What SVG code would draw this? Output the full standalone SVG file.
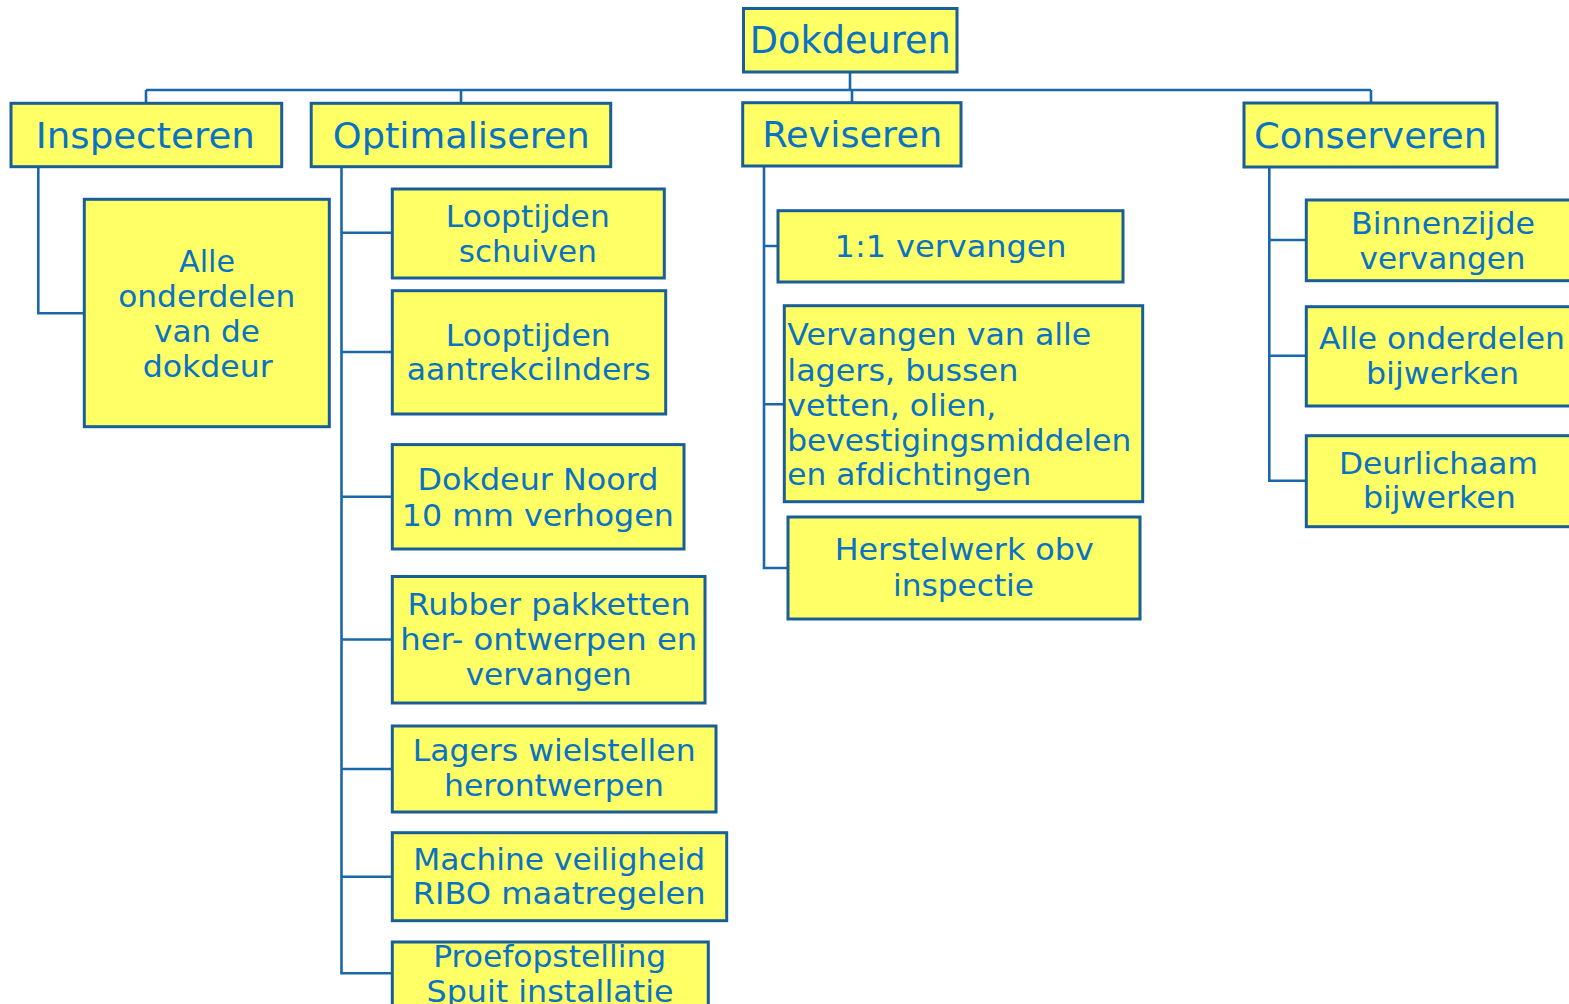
<svg xmlns="http://www.w3.org/2000/svg" width="1569" height="1004" viewBox="0 0 1569 1004">
<style>
.box{fill:#FFFF66;stroke:#1A5E98;stroke-width:3}
.t{font-family:"DejaVu Sans","Verdana",sans-serif;fill:#0A72C2;text-anchor:middle;font-size:30px}
.h{font-size:36px}
.l{text-anchor:start}
.c{fill:none;stroke:#1A68AA;stroke-width:2.6}
</style>
<rect width="1569" height="1004" fill="#FFFFFF"/>
<g id="connectors">
<path class="c" d="M850,72 V90 M146,90 H1371 M146,90 V103 M461,90 V103 M852,90 V103 M1371,90 V103"/>
<path class="c" d="M38.3,167 V313.3 H84"/>
<path class="c" d="M341.5,167 V973.3 H392 M341.5,232.7 H392 M341.5,352 H392 M341.5,496.7 H392 M341.5,639.5 H392 M341.5,769 H392 M341.5,876.7 H392"/>
<path class="c" d="M764,166 V568 H788 M764,246 H778 M764,404.3 H784"/>
<path class="c" d="M1269.3,167 V480.7 H1306 M1269.3,240 H1306 M1269.3,355.7 H1306"/>
</g>
<g id="dokdeuren">
<rect class="box" x="743.5" y="8.5" width="213.5" height="63.5"/>
<text class="t" x="850.3" y="53.3" style="font-size:37px" textLength="201" lengthAdjust="spacingAndGlyphs">Dokdeuren</text>
</g>
<g id="inspecteren">
<rect class="box" x="11" y="103.3" width="270.7" height="63.4"/>
<text class="t h" x="145.3" y="148.3" textLength="219" lengthAdjust="spacingAndGlyphs">Inspecteren</text>
</g>
<g id="optimaliseren">
<rect class="box" x="311.2" y="103.3" width="299.5" height="63.4"/>
<text class="t h" x="461.3" y="147.7" textLength="257" lengthAdjust="spacingAndGlyphs">Optimaliseren</text>
</g>
<g id="reviseren">
<rect class="box" x="742.7" y="102.7" width="218.3" height="63.3"/>
<text class="t h" x="852.2" y="147.3" textLength="180" lengthAdjust="spacingAndGlyphs">Reviseren</text>
</g>
<g id="conserveren">
<rect class="box" x="1244" y="103" width="253" height="64"/>
<text class="t h" x="1370.5" y="148.3" textLength="233" lengthAdjust="spacingAndGlyphs">Conserveren</text>
</g>
<g id="alle-onderdelen-dokdeur">
<rect class="box" x="84.3" y="199.3" width="245" height="227.4"/>
<text class="t" x="207" y="271.7" textLength="56" lengthAdjust="spacingAndGlyphs">Alle</text>
<text class="t" x="206.7" y="306.7" textLength="177" lengthAdjust="spacingAndGlyphs">onderdelen</text>
<text class="t" x="207" y="341.7" textLength="106" lengthAdjust="spacingAndGlyphs">van de</text>
<text class="t" x="207.7" y="376.7" textLength="130" lengthAdjust="spacingAndGlyphs">dokdeur</text>
</g>
<g id="looptijden-schuiven">
<rect class="box" x="392.3" y="189" width="272" height="89"/>
<text class="t" x="527.8" y="226.7" textLength="164" lengthAdjust="spacingAndGlyphs">Looptijden</text>
<text class="t" x="527.8" y="261.6" textLength="138" lengthAdjust="spacingAndGlyphs">schuiven</text>
</g>
<g id="looptijden-aantrekcilnders">
<rect class="box" x="392.3" y="290.7" width="273.4" height="123.3"/>
<text class="t" x="528.3" y="345.8" textLength="165" lengthAdjust="spacingAndGlyphs">Looptijden</text>
<text class="t" x="528.7" y="380.3" textLength="244" lengthAdjust="spacingAndGlyphs">aantrekcilnders</text>
</g>
<g id="dokdeur-noord">
<rect class="box" x="392.3" y="444.6" width="291.7" height="104.4"/>
<text class="t" x="538" y="490" textLength="241" lengthAdjust="spacingAndGlyphs">Dokdeur Noord</text>
<text class="t" x="537.8" y="526" textLength="272" lengthAdjust="spacingAndGlyphs">10 mm verhogen</text>
</g>
<g id="rubber-pakketten">
<rect class="box" x="392.3" y="576.5" width="312.7" height="126.5"/>
<text class="t" x="549" y="615" textLength="283" lengthAdjust="spacingAndGlyphs">Rubber pakketten</text>
<text class="t" x="548.7" y="650" textLength="297" lengthAdjust="spacingAndGlyphs">her- ontwerpen en</text>
<text class="t" x="548.7" y="685" textLength="166" lengthAdjust="spacingAndGlyphs">vervangen</text>
</g>
<g id="lagers-wielstellen">
<rect class="box" x="392.3" y="726" width="323.7" height="86"/>
<text class="t" x="554.2" y="761" textLength="283" lengthAdjust="spacingAndGlyphs">Lagers wielstellen</text>
<text class="t" x="554" y="796" textLength="220" lengthAdjust="spacingAndGlyphs">herontwerpen</text>
</g>
<g id="machine-veiligheid">
<rect class="box" x="392.3" y="832.7" width="334.4" height="88"/>
<text class="t" x="559.2" y="870" textLength="292" lengthAdjust="spacingAndGlyphs">Machine veiligheid</text>
<text class="t" x="559.2" y="904" textLength="293" lengthAdjust="spacingAndGlyphs">RIBO maatregelen</text>
</g>
<g id="proefopstelling">
<rect class="box" x="392.3" y="942" width="316" height="70"/>
<text class="t" x="549.7" y="967.3" textLength="233" lengthAdjust="spacingAndGlyphs">Proefopstelling</text>
<text class="t" x="550" y="1002" textLength="247" lengthAdjust="spacingAndGlyphs">Spuit installatie</text>
</g>
<g id="een-op-een-vervangen">
<rect class="box" x="778" y="210.7" width="345" height="71.3"/>
<text class="t" x="950.6" y="257" textLength="232" lengthAdjust="spacingAndGlyphs">1:1 vervangen</text>
</g>
<g id="vervangen-lagers">
<rect class="box" x="784.3" y="305.7" width="358.4" height="196"/>
<text class="t l" x="787.3" y="345" textLength="304" lengthAdjust="spacingAndGlyphs">Vervangen van alle</text>
<text class="t l" x="787.3" y="380.7" textLength="231" lengthAdjust="spacingAndGlyphs">lagers, bussen</text>
<text class="t l" x="787.3" y="416" textLength="209" lengthAdjust="spacingAndGlyphs">vetten, olien,</text>
<text class="t l" x="787.3" y="450.7" textLength="344" lengthAdjust="spacingAndGlyphs">bevestigingsmiddelen</text>
<text class="t l" x="787.3" y="485" textLength="244" lengthAdjust="spacingAndGlyphs">en afdichtingen</text>
</g>
<g id="herstelwerk">
<rect class="box" x="788" y="517" width="352" height="102"/>
<text class="t" x="964.2" y="560" textLength="259" lengthAdjust="spacingAndGlyphs">Herstelwerk obv</text>
<text class="t" x="963.5" y="596" textLength="141" lengthAdjust="spacingAndGlyphs">inspectie</text>
</g>
<g id="binnenzijde-vervangen">
<rect class="box" x="1306.3" y="200" width="280" height="80.7"/>
<text class="t" x="1443" y="234" textLength="184" lengthAdjust="spacingAndGlyphs">Binnenzijde</text>
<text class="t" x="1442.5" y="269" textLength="166" lengthAdjust="spacingAndGlyphs">vervangen</text>
</g>
<g id="alle-onderdelen-bijwerken">
<rect class="box" x="1306.3" y="306.7" width="280" height="99.3"/>
<text class="t" x="1441.9" y="349" textLength="246" lengthAdjust="spacingAndGlyphs">Alle onderdelen</text>
<text class="t" x="1442.5" y="384" textLength="153" lengthAdjust="spacingAndGlyphs">bijwerken</text>
</g>
<g id="deurlichaam-bijwerken">
<rect class="box" x="1306.3" y="435.7" width="280" height="91"/>
<text class="t" x="1438.4" y="474" textLength="199" lengthAdjust="spacingAndGlyphs">Deurlichaam</text>
<text class="t" x="1439.4" y="508" textLength="153" lengthAdjust="spacingAndGlyphs">bijwerken</text>
</g>
</svg>
